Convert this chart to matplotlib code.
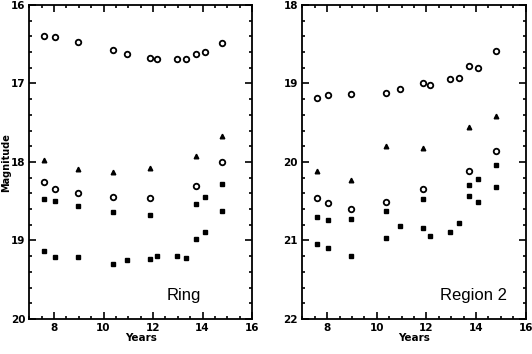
import numpy as np
import matplotlib.pyplot as plt
from matplotlib.ticker import MultipleLocator

# epochs (years)
years = [7.58, 8.04, 8.96, 10.39, 10.95, 11.88, 12.16, 12.96, 13.32, 13.73, 14.08, 14.80]
yr_tri = [7.58, 8.96, 10.39, 11.88, 13.73, 14.80]
yr_circ = [7.58, 8.04, 8.96, 10.39, 11.88, 13.73, 14.80]
yr_dot = [7.58, 8.04, 8.96, 10.39, 11.88, 13.73, 14.08, 14.80]

# Ring
ring_top = [16.40, 16.41, 16.47, 16.57, 16.62, 16.67, 16.69, 16.69, 16.69, 16.62, 16.60, 16.49]
ring_tri = [17.97, 18.09, 18.13, 18.08, 17.92, 17.67]
ring_circ = [18.25, 18.34, 18.39, 18.45, 18.46, 18.31, 18.00]
ring_dot = [18.47, 18.50, 18.56, 18.64, 18.67, 18.54, 18.45, 18.28]
ring_sq = [19.14, 19.21, 19.21, 19.30, 19.25, 19.23, 19.20, 19.20, 19.22, 18.98, 18.89, 18.62]

# Region 2
reg_top = [19.18, 19.15, 19.13, 19.12, 19.07, 18.99, 19.02, 18.94, 18.93, 18.78, 18.80, 18.58]
reg_tri = [20.11, 20.23, 19.80, 19.82, 19.55, 19.41]
reg_circ = [20.46, 20.52, 20.60, 20.51, 20.34, 20.11, 19.86]
reg_dot = [20.70, 20.74, 20.73, 20.62, 20.47, 20.29, 20.22, 20.04]
reg_sq = [21.04, 21.10, 21.20, 20.97, 20.82, 20.84, 20.94, 20.89, 20.78, 20.43, 20.51, 20.32]

fig = plt.figure(figsize=(5.32, 3.54), dpi=100)
ax1 = fig.add_axes([0.0551, 0.0989, 0.4186, 0.887])
ax2 = fig.add_axes([0.5682, 0.0989, 0.4199, 0.887])


def panel(ax, top, tri, circ, dot, sq, ylim, label, lx):
    ax.plot(years, top, 'o', mfc='none', mec='k', ms=4, mew=1.3)
    ax.plot(yr_tri, tri, '^', color='k', ms=3.3)
    ax.plot(yr_circ, circ, 'o', mfc='none', mec='k', ms=4, mew=1.3)
    ax.plot(yr_dot, dot, 's', color='k', ms=2.3)
    ax.plot(years, sq, 's', color='k', ms=2.8)
    ax.set_xlim(7, 16)
    ax.set_ylim(ylim[1], ylim[0])
    ax.xaxis.set_major_locator(MultipleLocator(2))
    ax.xaxis.set_minor_locator(MultipleLocator(0.5))
    ax.yaxis.set_major_locator(MultipleLocator(1))
    ax.yaxis.set_minor_locator(MultipleLocator(0.2))
    ax.tick_params(which='both', direction='in', top=True, right=True, width=1.2)
    ax.tick_params(which='major', length=5, labelsize=7.5, pad=3)
    ax.tick_params(which='minor', length=2.5)
    for lab in ax.get_xticklabels() + ax.get_yticklabels():
        lab.set_fontweight('bold')
    for s in ax.spines.values():
        s.set_linewidth(1.3)
    ax.set_xlabel('Years', fontsize=7.5, fontweight='bold', labelpad=0)
    ax.text(lx, ylim[0] + 3.70 * (ylim[1] - ylim[0]) / 4, label, fontsize=12,
            ha='left', va='center', family='Liberation Sans')


panel(ax1, ring_top, ring_tri, ring_circ, ring_dot, ring_sq, (16, 20), 'Ring', 12.55)
panel(ax2, reg_top, reg_tri, reg_circ, reg_dot, reg_sq, (18, 22), 'Region 2', 12.55)
fig.text(0.012, 0.54, 'Magnitude', rotation=90, fontsize=7, fontweight='bold',
         ha='center', va='center')

fig.savefig('out.png', dpi=100)
